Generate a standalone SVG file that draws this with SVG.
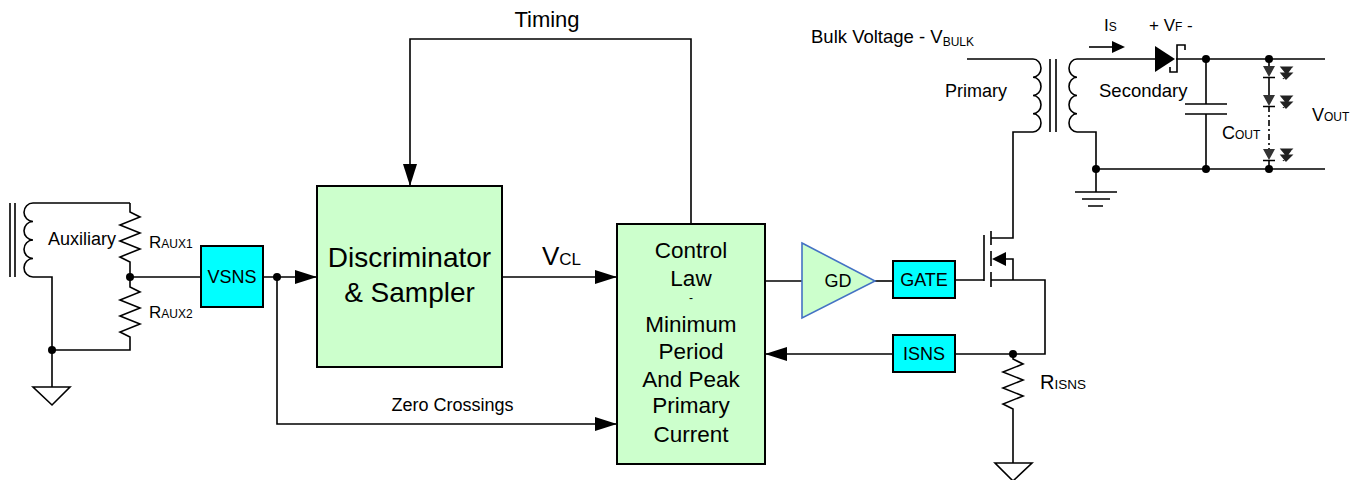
<svg xmlns="http://www.w3.org/2000/svg" width="1361" height="480" viewBox="0 0 1361 480">
<style>
text{font-family:"Liberation Sans",Arial,sans-serif;fill:#000}
.w{fill:none;stroke:#000;stroke-width:1.6}
.g{fill:#CCFFCC;stroke:#000;stroke-width:2}
.c{fill:#00FFFF;stroke:#000;stroke-width:2}
.d{fill:#000}
.f{fill:#000;stroke:none}
</style>
<defs>
<marker id="arr" viewBox="0 0 22 14" refX="22" refY="7" markerWidth="22" markerHeight="14" markerUnits="userSpaceOnUse" orient="auto"><path d="M0,0 L22,7 L0,14 z" fill="#000"/></marker>
</defs>
<rect width="1361" height="480" fill="#fff"/>

<g id="connectors">
<path class="w" d="M10,203 V277 M15,203 V277"/>
<path class="w" d="M130,203 H33 A9,9.25 0 0 0 33,221.5 A9,9.25 0 0 0 33,240 A9,9.25 0 0 0 33,258.5 A9,9.25 0 0 0 33,277 H52 V387"/>
<path class="w" d="M130,203 V212 L140,217 L120,225 L140,233 L120,241 L140,249 L120,257 L130,262 V277"/>
<path class="w" d="M130,277 V287 L140,292 L120,300 L140,308 L120,316 L140,324 L120,332 L130,337 V350 H52"/>
<path class="w" d="M33,387 H70 L52,405 Z"/>
<path class="w" d="M130,277 H201"/>
<path class="w" d="M263,277 H317" marker-end="url(#arr)"/>
<path class="w" d="M277,277 V424 H617" marker-end="url(#arr)"/>
<path class="w" d="M502,277 H617" marker-end="url(#arr)"/>
<path class="w" d="M691,224 V39 H410 V186" marker-end="url(#arr)"/>
<path class="w" d="M765,281 H802"/>
<path class="w" d="M875,281 H893"/>
<path class="w" d="M955,280 H984 M984,235 V281"/>
<path class="w" d="M991,231 V245 M991,251 V266 M991,272 V287"/>
<path class="w" d="M991,238 H1013 V132 H1033"/>
<path class="w" d="M991,280 H1045 V354 H955"/>
<path class="w" d="M1004,259 H1013 V280"/>
<path class="f" d="M992,259 L1006,252 L1006,266 Z"/>
<path class="w" d="M893,354 H765" marker-end="url(#arr)"/>
<path class="w" d="M1013,354 V359 L1023,364 L1003,372 L1023,380 L1003,388 L1023,396 L1003,404 L1013,409 V463"/>
<path class="w" d="M995,463 H1032 L1013,481 Z"/>
<path class="w" d="M967,59 H1033 A8,9.125 0 0 1 1033,77.25 A8,9.125 0 0 1 1033,95.5 A8,9.125 0 0 1 1033,113.75 A8,9.125 0 0 1 1033,132"/>
<path class="w" d="M1050,59 V132 M1056,59 V132"/>
<path class="w" d="M1155,59 H1077 A8,9.125 0 0 0 1077,77.25 A8,9.125 0 0 0 1077,95.5 A8,9.125 0 0 0 1077,113.75 A8,9.125 0 0 0 1077,132 H1096 V192"/>
<path class="w" d="M1075,192 H1117 M1082,199 H1110 M1088,206 H1103"/>
<path class="w" d="M1176,59 H1325 M1096,169 H1325"/>
<path class="w" d="M1089,47 H1113"/>
<path class="f" d="M1125,47 L1112,41 L1112,53 Z"/>
<path class="f" d="M1155,46 L1175,59 L1155,72 Z"/>
<path class="w" d="M1185,50 V45 H1177 V72 H1170 V67"/>
<path class="w" d="M1206,59 V104 M1206,114 V169 M1185,104 H1227 M1185,114 H1227"/>
<path class="w" d="M1269,59 V66 M1269,77 V95 M1269,160 V169 M1263,77.5 H1275 M1263,106.5 H1275 M1263,160.5 H1275"/>
<path class="w" d="M1269,106 V149" stroke-dasharray="6,3,2,3"/>
<path fill="#333" d="M1263,66 H1275 L1269,77 Z M1263,95 H1275 L1269,106 Z M1263,149 H1275 L1269,160 Z"/>
<g fill="#222" stroke="#222" stroke-width="1.2">
<path d="M1281,67 H1292 L1286,73 Z M1281,73 H1292 L1286,79 Z M1292,67 L1283,79"/>
<path d="M1281,96 H1292 L1286,102 Z M1281,102 H1292 L1286,108 Z M1292,96 L1283,108"/>
<path d="M1281,149 H1292 L1286,155 Z M1281,155 H1292 L1286,161 Z M1292,149 L1283,161"/>
</g>
<g class="d">
<circle cx="130" cy="277" r="4"/><circle cx="277" cy="277" r="4"/><circle cx="52" cy="350" r="4"/>
<circle cx="1013" cy="354" r="4"/><circle cx="1096" cy="169" r="4"/>
<circle cx="1206" cy="59" r="4"/><circle cx="1206" cy="169" r="4"/>
<circle cx="1269" cy="59" r="4"/><circle cx="1269" cy="169" r="4"/>
</g>
</g>

<g id="vsns"><rect class="c" x="201" y="246" width="62" height="61"/><text x="232" y="283" font-size="18" text-anchor="middle">VSNS</text></g>
<g id="discriminator"><rect class="g" x="317" y="186" width="185" height="181"/>
<text x="409.5" y="267" font-size="28" text-anchor="middle">Discriminator</text>
<text x="409.5" y="302" font-size="28" text-anchor="middle">&amp; Sampler</text></g>
<g id="control"><rect class="g" x="617" y="224" width="148" height="240"/>
<g font-size="22.5" text-anchor="middle">
<text x="691" y="258">Control</text><text x="691" y="286">Law</text>
<text x="691" y="302" font-size="12">-</text>
<text x="691" y="332">Minimum</text><text x="691" y="359">Period</text>
<text x="691" y="387">And Peak</text><text x="691" y="413">Primary</text><text x="691" y="442">Current</text></g></g>
<g id="gd"><path d="M802,243 L875,281 L802,318 Z" fill="#CCFFCC" stroke="#4472C4" stroke-width="1.6"/><text x="838" y="287" font-size="18" text-anchor="middle">GD</text></g>
<g id="gate"><rect class="c" x="893" y="261" width="62" height="37"/><text x="924" y="286" font-size="18" text-anchor="middle">GATE</text></g>
<g id="isns"><rect class="c" x="893" y="335" width="62" height="37"/><text x="924" y="360" font-size="18" text-anchor="middle">ISNS</text></g>

<g id="labels">
<text x="547" y="27" font-size="22" text-anchor="middle">Timing</text>
<text x="452.5" y="411" font-size="18" text-anchor="middle">Zero Crossings</text>
<text x="542" y="265" font-size="26">V<tspan font-size="17">CL</tspan></text>
<text x="48" y="245" font-size="18">Auxiliary</text>
<text x="149" y="248" font-size="17">R<tspan font-size="12">AUX1</tspan></text>
<text x="149" y="318" font-size="17">R<tspan font-size="12">AUX2</tspan></text>
<text x="1040" y="389" font-size="20">R<tspan font-size="13.5">ISNS</tspan></text>
<text x="811" y="43" font-size="18.5">Bulk Voltage - V<tspan font-size="12" dy="3">BULK</tspan></text>
<text x="945" y="97" font-size="18">Primary</text>
<text x="1099" y="97" font-size="18.5">Secondary</text>
<text x="1104" y="31" font-size="17">I<tspan font-size="12">S</tspan></text>
<text x="1149" y="31" font-size="17">+ V<tspan font-size="12">F</tspan> -</text>
<text x="1222" y="139" font-size="18">C<tspan font-size="12">OUT</tspan></text>
<text x="1312" y="121" font-size="18">V<tspan font-size="12">OUT</tspan></text>
</g>
</svg>
